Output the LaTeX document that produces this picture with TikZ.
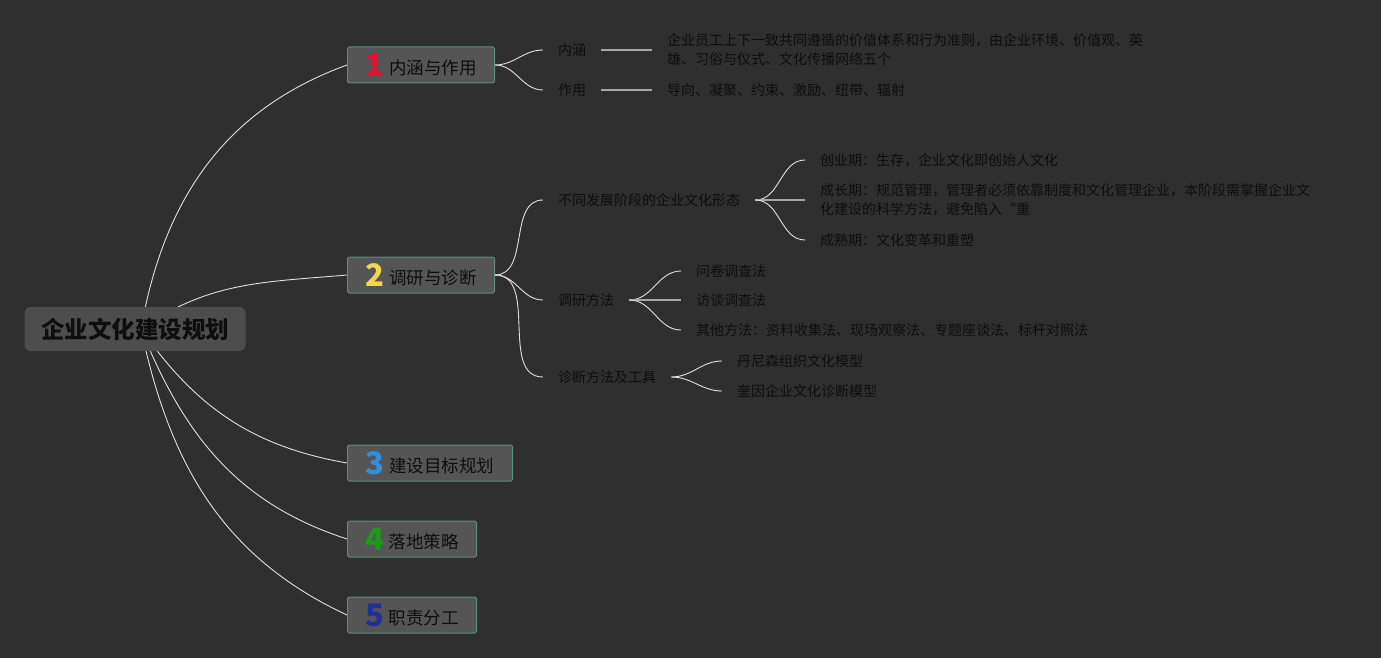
\documentclass[tikz,border=0pt]{standalone}
\usepackage{fontspec}
\setmainfont{Noto Sans CJK SC}
\usepackage{xcolor}
\usetikzlibrary{positioning,backgrounds}
\definecolor{bgc}{HTML}{2F2F2F}
\definecolor{rootfill}{HTML}{4D4D4D}
\definecolor{topicfill}{HTML}{555555}
\definecolor{topicedge}{HTML}{5E8C7C}
\definecolor{numred}{HTML}{E0142F}
\definecolor{numyellow}{HTML}{F2D74A}
\definecolor{numblue}{HTML}{2E90DA}
\definecolor{numgreen}{HTML}{1C9A1C}
\definecolor{numnavy}{HTML}{20309A}
\definecolor{ink}{HTML}{0E0E0E}
\newcommand{\topicnum}[2]{{\fontsize{31}{31}\selectfont\bfseries\color{#1}#2}\hspace{5pt}}
\newcommand{\topictext}[1]{\raisebox{2pt}{#1}}

\begin{document}
\begin{tikzpicture}[x=1pt, y=-1pt,
    every node/.style={text=ink},
    root/.style={fill=rootfill, rounded corners=6pt, minimum width=221pt,
                 minimum height=44pt, font=\fontsize{23.5}{26}\selectfont\bfseries},
    topic/.style={draw=topicedge, line width=1pt, fill=topicfill, rounded corners=1.5pt,
                  minimum height=36pt, anchor=west, inner xsep=0pt,
                  font=\fontsize{17.5}{20}\selectfont},
    leaf/.style={anchor=west, inner xsep=15pt, inner ysep=2pt, align=left,
                 font=\fontsize{14}{19}\selectfont},
    branch/.style={draw=white!88!black, line width=0.9pt},
    stem/.style={draw=white!65!black, line width=1.6pt},
]
  \useasboundingbox (0,0) rectangle (1381,658);
  % Root and main topics
  \node[root] (root) at (135,329) {企业文化建设规划};
  \coordinate (hub) at ([xshift=6pt]root.center);
  \node[topic, minimum width=147pt] (t1) at (347,65)  {\topicnum{numred}{1}\topictext{内涵与作用}};
  \node[topic, minimum width=147pt] (t2) at (347,275) {\topicnum{numyellow}{2}\topictext{调研与诊断}};
  \node[topic, minimum width=165pt] (t3) at (347,463) {\topicnum{numblue}{3}\topictext{建设目标规划}};
  \node[topic, minimum width=129pt] (t4) at (347,539) {\topicnum{numgreen}{4}\topictext{落地策略}};
  \node[topic, minimum width=129pt] (t5) at (347,615) {\topicnum{numnavy}{5}\topictext{职责分工}};
  % Topic 1
  \node[leaf] (neihan)   at (543,50)  {内涵};
  \node[leaf] (zuoyong)  at (543,90)  {作用};
  \node[leaf] (neihanD)  at (652,50)  {企业员工上下一致共同遵循的价值体系和行为准则，由企业环境、价值观、英\\雄、习俗与仪式、文化传播网络五个};
  \node[leaf] (zuoyongD) at (652,90)  {导向、凝聚、约束、激励、纽带、辐射};
  % Topic 2
  \node[leaf] (xingtai)  at (543,200) {不同发展阶段的企业文化形态};
  \node[leaf] (diaoyan)  at (543,300) {调研方法};
  \node[leaf] (zhenduan) at (543,377) {诊断方法及工具};
  \node[leaf] (chuangye)   at (805,160) {创业期：生存，企业文化即创始人文化};
  \node[leaf] (chengzhang) at (805,200) {成长期：规范管理，管理者必须依靠制度和文化管理企业，本阶段需掌握企业文\\化建设的科学方法，避免陷入“重};
  \node[leaf] (chengshu)   at (805,240) {成熟期：文化变革和重塑};
  \node[leaf] (wenjuan) at (681,271) {问卷调查法};
  \node[leaf] (fangtan) at (681,300) {访谈调查法};
  \node[leaf] (qita)    at (681,330) {其他方法：资料收集法、现场观察法、专题座谈法、标杆对照法};
  \node[leaf] (danni)   at (722,361) {丹尼森组织文化模型};
  \node[leaf] (kuiyin)  at (722,391) {奎因企业文化诊断模型};

  \begin{scope}[on background layer]
    \fill[bgc] (0,0) rectangle (1381,658);
    % Root to topics
    \draw[branch] (hub) to[out=80,in=200] (t1.west);
    \draw[branch] (hub) to[out=35,in=185] (t2.west);
    \draw[branch] (hub) to[out=-55,in=170] (t3.west);
    \draw[branch] (hub) to[out=-68,in=162] (t4.west);
    \draw[branch] (hub) to[out=-78,in=155] (t5.west);
  \end{scope}

  % Topic 1 links
  \draw[branch] (t1.east) to[out=0,in=180] (neihan.west);
  \draw[branch] (t1.east) to[out=0,in=180] (zuoyong.west);
  \draw[stem] (neihan.east) -- (neihanD.west);
  \draw[stem] (zuoyong.east) -- (zuoyongD.west);
  % Topic 2 links
  \draw[branch] (t2.east) to[out=0,in=180] (xingtai.west);
  \draw[branch] (t2.east) to[out=0,in=180] (diaoyan.west);
  \draw[branch] (t2.east) to[out=0,in=180] (zhenduan.west);
  \draw[branch] (xingtai.east) to[out=0,in=180] (chuangye.west);
  \draw[stem]   (xingtai.east) -- (chengzhang.west);
  \draw[branch] (xingtai.east) to[out=0,in=180] (chengshu.west);
  \draw[branch] (diaoyan.east) to[out=0,in=180] (wenjuan.west);
  \draw[stem]   (diaoyan.east) -- (fangtan.west);
  \draw[branch] (diaoyan.east) to[out=0,in=180] (qita.west);
  \draw[branch] (zhenduan.east) to[out=0,in=180] (danni.west);
  \draw[branch] (zhenduan.east) to[out=0,in=180] (kuiyin.west);
\end{tikzpicture}
\end{document}
